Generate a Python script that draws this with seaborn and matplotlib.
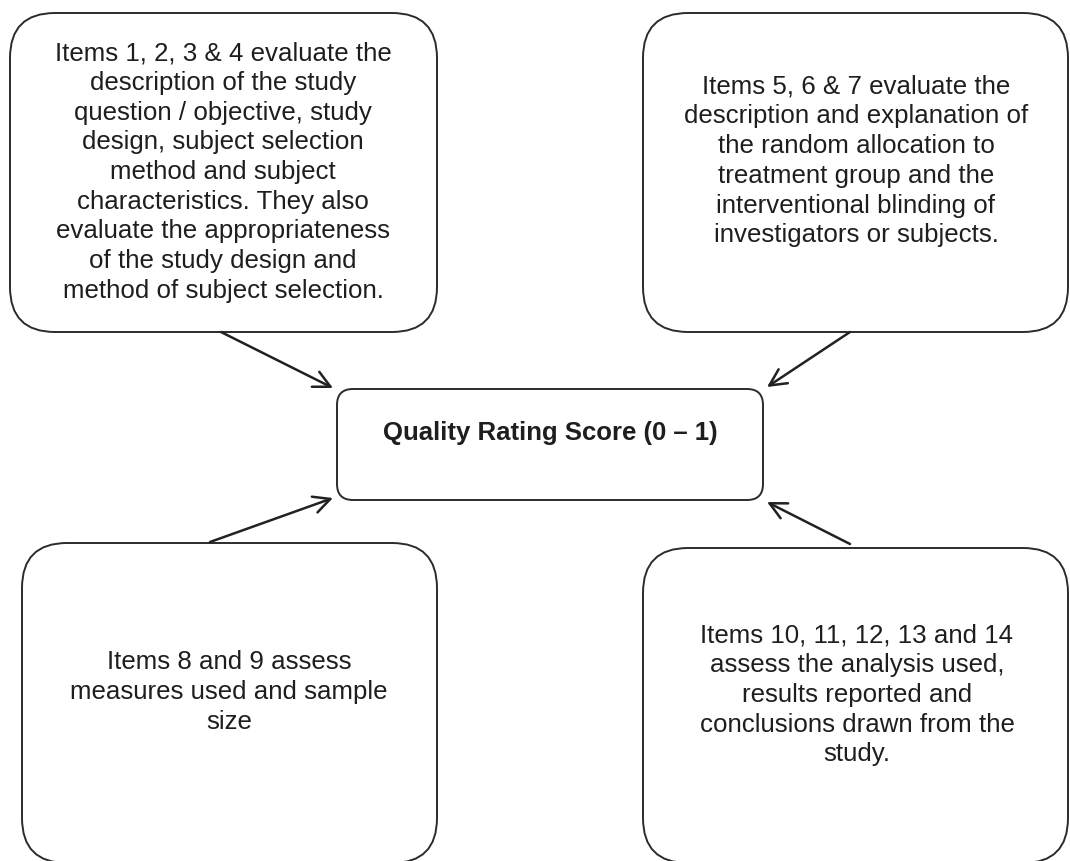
import matplotlib
matplotlib.use("Agg")
import matplotlib.pyplot as plt
from matplotlib.patches import FancyBboxPatch
import seaborn as sns

sns.set_theme(style="white")
plt.rcParams["font.family"] = ["Liberation Sans", "DejaVu Sans"]

# ----------------------------------------------------------------
# content
# ----------------------------------------------------------------
box_texts = [
    "Items 1, 2, 3 & 4 evaluate the\ndescription of the study\nquestion / objective, study\n"
    "design, subject selection\nmethod and subject\ncharacteristics. They also\n"
    "evaluate the appropriateness\nof the study design and\nmethod of subject selection.",
    "Items 5, 6 & 7 evaluate the\ndescription and explanation of\nthe random allocation to\n"
    "treatment group and the\ninterventional blinding of\ninvestigators or subjects.",
    "Items 8 and 9 assess\nmeasures used and sample\nsize",
    "Items 10, 11, 12, 13 and 14\nassess the analysis used,\nresults reported and\n"
    "conclusions drawn from the\nstudy.",
]
center_text = "Quality Rating Score (0 \u2013 1)"

# ----------------------------------------------------------------
# layout (pixel coords, y down)
# ----------------------------------------------------------------
box_rects = [(10, 13, 427, 319), (643, 13, 425, 319),
             (22, 543, 415, 320), (643, 548, 425, 315)]
text_pos = [(223, 172), (856, 161), (229, 692), (857, 695)]
center_rect = (337, 389, 426, 111)
center_text_pos = (550, 433)
arrows = [((221, 332), (333, 388)), ((850, 332), (767, 387)),
          ((210, 542), (333, 498)), ((850, 544), (767, 502))]

W, H = 1070, 861
fig = plt.figure(figsize=(W / 100, H / 100), dpi=100)
ax = fig.add_axes([0, 0, 1, 1])
ax.set_xlim(0, W)
ax.set_ylim(H, 0)
ax.axis("off")

edge = "#2b2b2b"
for (x, y, w, h), txt, (tx, ty) in zip(box_rects, box_texts, text_pos):
    ax.add_patch(FancyBboxPatch((x, y), w, h, boxstyle="round,pad=0,rounding_size=45",
                                fc="white", ec=edge, lw=1.4))
    ax.text(tx, ty, txt, ha="center", va="center", multialignment="center",
            fontsize=18.6, color="#1e1e1e", linespacing=1.3)

x, y, w, h = center_rect
ax.add_patch(FancyBboxPatch((x, y), w, h, boxstyle="round,pad=0,rounding_size=16",
                            fc="white", ec=edge, lw=1.4))
ax.text(*center_text_pos, center_text, ha="center", va="center",
        fontsize=18.5, fontweight="bold", color="#1e1e1e")

for start, end in arrows:
    ax.annotate("", xy=end, xytext=start,
                arrowprops=dict(arrowstyle="->,head_length=1.0,head_width=0.5",
                                lw=1.8, color="#222222", shrinkA=0, shrinkB=0,
                                mutation_scale=12))

fig.savefig("out.png", dpi=100, facecolor="white")
plt.close(fig)
